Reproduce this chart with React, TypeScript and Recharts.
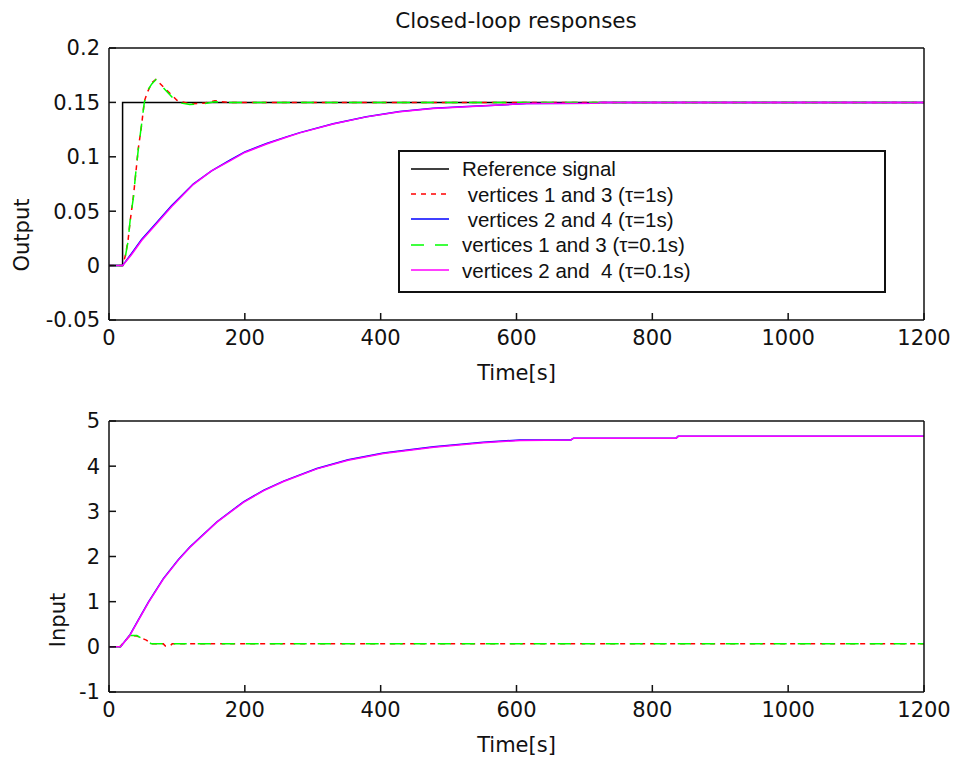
import { LineChart, Line, XAxis, YAxis, Legend } from "recharts";

// axis ticks
const timeTicks = [0, 200, 400, 600, 800, 1000, 1200];
const outputTicks = [-0.05, 0, 0.05, 0.1, 0.15, 0.2];
const inputTicks = [-1, 0, 1, 2, 3, 4, 5];

// top panel: output
const refTime = [0, 20, 20, 1200];
const refOut = [0, 0, 0.15, 0.15];

const fastTime = [0, 20, 24, 28, 31, 36, 39, 43, 48, 52, 57, 63, 69, 82, 100, 119, 141, 156, 166, 180, 1200];
const fast1Out = [0, 0, 0.009, 0.023, 0.04, 0.064, 0.082, 0.107, 0.129, 0.151, 0.16, 0.168, 0.171, 0.163, 0.152, 0.1485, 0.1495, 0.1515, 0.1505, 0.15, 0.15];
const fast01Out = [0, 0, 0.008, 0.022, 0.041, 0.063, 0.083, 0.106, 0.13, 0.15, 0.161, 0.167, 0.171, 0.162, 0.15, 0.148, 0.149, 0.1505, 0.15, 0.15, 0.15];

const slowTime = [0, 20, 33, 48, 68, 92, 124, 151, 178, 200, 232, 260, 281, 330, 379, 428, 477, 527, 576, 615, 720, 723, 1200];
const slow1Out = [0, 0, 0.011, 0.024, 0.038, 0.055, 0.075, 0.087, 0.097, 0.1045, 0.1122, 0.1181, 0.1222, 0.1304, 0.1368, 0.1416, 0.1446, 0.1462, 0.1476, 0.149, 0.1492, 0.15, 0.15];
const slow01Out = [0, 0, 0.01, 0.023, 0.037, 0.054, 0.0745, 0.087, 0.0963, 0.104, 0.1118, 0.1178, 0.122, 0.1302, 0.1367, 0.1414, 0.1445, 0.146, 0.1475, 0.1491, 0.1492, 0.15, 0.15];

// bottom panel: input
const fastInTime = [0, 16, 31, 41, 48, 55, 62, 80, 83, 90, 93, 1200];
const fast1In = [0, 0, 0.25, 0.24, 0.19, 0.15, 0.07, 0.066, 0.02, 0.02, 0.066, 0.066];
const fast01InTime = [0, 16, 31, 41, 48, 55, 62, 1200];
const fast01In = [0, 0, 0.25, 0.25, 0.19, 0.15, 0.07, 0.066];

const slowInTime = [0, 17, 31, 43, 58, 80, 102, 119, 134, 159, 198, 228, 257, 306, 352, 404, 478, 551, 605, 680, 684, 835, 838, 1200];
const slow1In = [0, 0, 0.27, 0.59, 0.99, 1.51, 1.93, 2.21, 2.42, 2.77, 3.21, 3.47, 3.67, 3.95, 4.14, 4.29, 4.43, 4.53, 4.58, 4.58, 4.62, 4.62, 4.66, 4.66];
const slow01In = [0, 0, 0.26, 0.58, 0.98, 1.5, 1.92, 2.2, 2.41, 2.76, 3.2, 3.46, 3.66, 3.94, 4.13, 4.28, 4.42, 4.52, 4.57, 4.58, 4.62, 4.62, 4.66, 4.66];

const zip = (t: number[], v: number[]) => t.map((x, i) => ({ t: x, v: v[i] }));

const legendItems = [
  { name: "Reference signal", color: "#000000", dash: undefined },
  { name: " vertices 1 and 3 (\u03c4=1s)", color: "#ff0000", dash: "5 5" },
  { name: " vertices 2 and 4 (\u03c4=1s)", color: "#0000ff", dash: undefined },
  { name: "vertices 1 and 3 (\u03c4=0.1s)", color: "#00ff00", dash: "13 11" },
  { name: "vertices 2 and  4 (\u03c4=0.1s)", color: "#ff00ff", dash: undefined },
];

const axisLine = { stroke: "#111", strokeWidth: 1.5 };
const tickStyle = { fontSize: 21, fontFamily: "DejaVu Sans", fill: "#111" };
const labelFont = { fontSize: 21, fontFamily: "DejaVu Sans", fill: "#111" };

const LegendBox = () => (
  <div
    style={{
      width: 484,
      height: 135,
      border: "2px solid #111",
      background: "#fff",
      paddingTop: 4,
      fontFamily: "Liberation Sans, Arial, sans-serif",
      fontSize: 20.5,
      color: "#111",
    }}
  >
    {legendItems.map((item) => (
      <div key={item.name} style={{ height: 25.4, display: "flex", alignItems: "center" }}>
        <svg width={62} height={10} style={{ flex: "none" }}>
          <line x1={11} x2={49} y1={5} y2={5} stroke={item.color} strokeWidth={1.5} strokeDasharray={item.dash} />
        </svg>
        <span style={{ whiteSpace: "pre", lineHeight: "25px" }}>{item.name}</span>
      </div>
    ))}
  </div>
);

type Series = { data: { t: number; v: number }[]; color: string; dash?: string };

type PanelProps = {
  top: number;
  height: number;
  margin: { top: number; right: number; bottom: number; left: number };
  yDomain: [number, number];
  yTicks: number[];
  series: Series[];
  yLabel: string;
  yLabelX: number;
  yLabelY: number;
  withLegend?: boolean;
};

const Panel = ({ top, height, margin, yDomain, yTicks, series, yLabel, yLabelX, yLabelY, withLegend }: PanelProps) => (
  <div style={{ position: "absolute", left: 0, top }}>
    <LineChart width={955} height={height} margin={margin}>
      <XAxis
        dataKey="t"
        type="number"
        domain={[0, 1200]}
        ticks={timeTicks}
        height={30}
        axisLine={axisLine}
        tickLine={axisLine}
        tickSize={-7}
        tickMargin={17}
        tick={tickStyle}
        allowDuplicatedCategory={false}
        label={{ value: "Time[s]", position: "bottom", offset: 15, style: labelFont }}
      />
      <XAxis
        xAxisId="top"
        orientation="top"
        dataKey="t"
        type="number"
        domain={[0, 1200]}
        ticks={timeTicks}
        height={1}
        axisLine={axisLine}
        tickLine={axisLine}
        tickSize={-7}
        tick={false}
      />
      <YAxis
        type="number"
        domain={yDomain}
        ticks={yTicks}
        width={109}
        axisLine={axisLine}
        tickLine={axisLine}
        tickSize={-7}
        tickMargin={16}
        tick={tickStyle}
        interval={0}
        label={{
          content: () => (
            <text
              x={yLabelX}
              y={yLabelY}
              transform={`rotate(-90 ${yLabelX} ${yLabelY})`}
              textAnchor="middle"
              dominantBaseline="central"
              style={labelFont}
            >
              {yLabel}
            </text>
          ),
        }}
      />
      <YAxis
        yAxisId="right"
        orientation="right"
        type="number"
        domain={yDomain}
        ticks={yTicks}
        width={1}
        axisLine={axisLine}
        tickLine={axisLine}
        tickSize={-7}
        tick={false}
        interval={0}
      />
      {series.map((s, i) => (
        <Line
          key={i}
          data={s.data}
          dataKey="v"
          type="linear"
          stroke={s.color}
          strokeWidth={1.5}
          strokeDasharray={s.dash}
          dot={false}
          activeDot={false}
          isAnimationActive={false}
        />
      ))}
      {withLegend && (
        <Legend
          layout="vertical"
          align="center"
          verticalAlign="middle"
          content={() => <LegendBox />}
          wrapperStyle={{ left: 398, top: 150, width: 488, height: 139 }}
        />
      )}
    </LineChart>
  </div>
);

export default function App() {
  const topSeries: Series[] = [
    { data: zip(refTime, refOut), color: "#000000" },
    { data: zip(fastTime, fast1Out), color: "#ff0000", dash: "5 5" },
    { data: zip(slowTime, slow1Out), color: "#0000ff" },
    { data: zip(fastTime, fast01Out), color: "#00ff00", dash: "13 11" },
    { data: zip(slowTime, slow01Out), color: "#ff00ff" },
  ];
  const bottomSeries: Series[] = [
    { data: zip(fastInTime, fast1In), color: "#ff0000", dash: "5 5" },
    { data: zip(slowInTime, slow1In), color: "#0000ff" },
    { data: zip(fast01InTime, fast01In), color: "#00ff00", dash: "13 11" },
    { data: zip(slowInTime, slow01In), color: "#ff00ff" },
  ];
  return (
    <div style={{ position: "absolute", left: 0, top: 0, width: 955, height: 767, background: "#fff", overflow: "hidden" }}>
      <div
        style={{
          position: "absolute",
          left: 0,
          width: 1032,
          top: 8,
          textAlign: "center",
          fontFamily: "DejaVu Sans",
          fontSize: 21.5,
          color: "#111",
        }}
      >
        Closed-loop responses
      </div>
      <Panel
        top={0}
        height={400}
        margin={{ top: 47, right: 30, bottom: 50, left: 0 }}
        yDomain={[-0.05, 0.2]}
        yTicks={outputTicks}
        series={topSeries}
        yLabel="Output"
        yLabelX={22}
        yLabelY={235}
        withLegend
      />
      <Panel
        top={395}
        height={370}
        margin={{ top: 25, right: 30, bottom: 43, left: 0 }}
        yDomain={[-1, 5]}
        yTicks={inputTicks}
        series={bottomSeries}
        yLabel="Input"
        yLabelX={58}
        yLabelY={225}
      />
    </div>
  );
}
